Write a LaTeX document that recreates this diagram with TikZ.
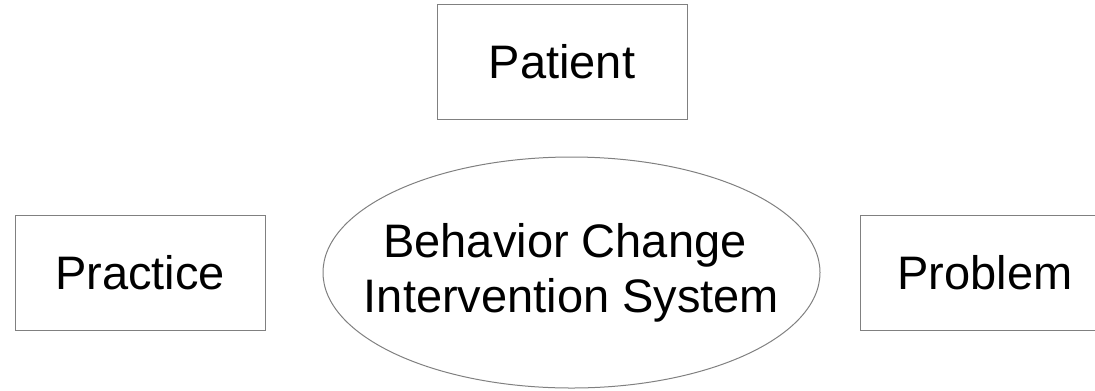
\documentclass[tikz,border=0pt]{standalone}
\usepackage{fontspec}
\setmainfont{Liberation Sans}
\usetikzlibrary{shapes.geometric}
\definecolor{edgegray}{RGB}{128,128,128}
\begin{document}
\begin{tikzpicture}[x=0.75pt,y=-0.75pt,
  labelfont/.style={font=\fontsize{35.25pt}{41.25pt}\selectfont, text=black},
  box/.style={draw=edgegray, line width=0.75pt, rectangle, inner sep=0pt,
    minimum width=187.5pt, minimum height=86.25pt, labelfont},
  hub/.style={draw=edgegray, line width=0.75pt, ellipse, inner sep=0pt,
    minimum width=372.75pt, minimum height=173.25pt},
  hubtext/.style={inner sep=0pt, align=center, labelfont}]
  \useasboundingbox (0,0) rectangle (1095,390);
  \clip (0,0) rectangle (1095,390);
  \node[box] (patient)  at (562,61.5)   {Patient};
  \node[box] (practice) at (140,272.5)  {Practice};
  \node[box] (problem)  at (985,272.5)  {Problem};
  % the ellipse is drawn on its own so the two text lines do not enlarge it
  \node[hub] (system)   at (571.5,272.5) {};
  % the first line keeps its trailing space when centred
  \node[hubtext] (systemtext) at (system.center) {Behavior Change\phantom{\ }\\Intervention System};
\end{tikzpicture}
\end{document}
